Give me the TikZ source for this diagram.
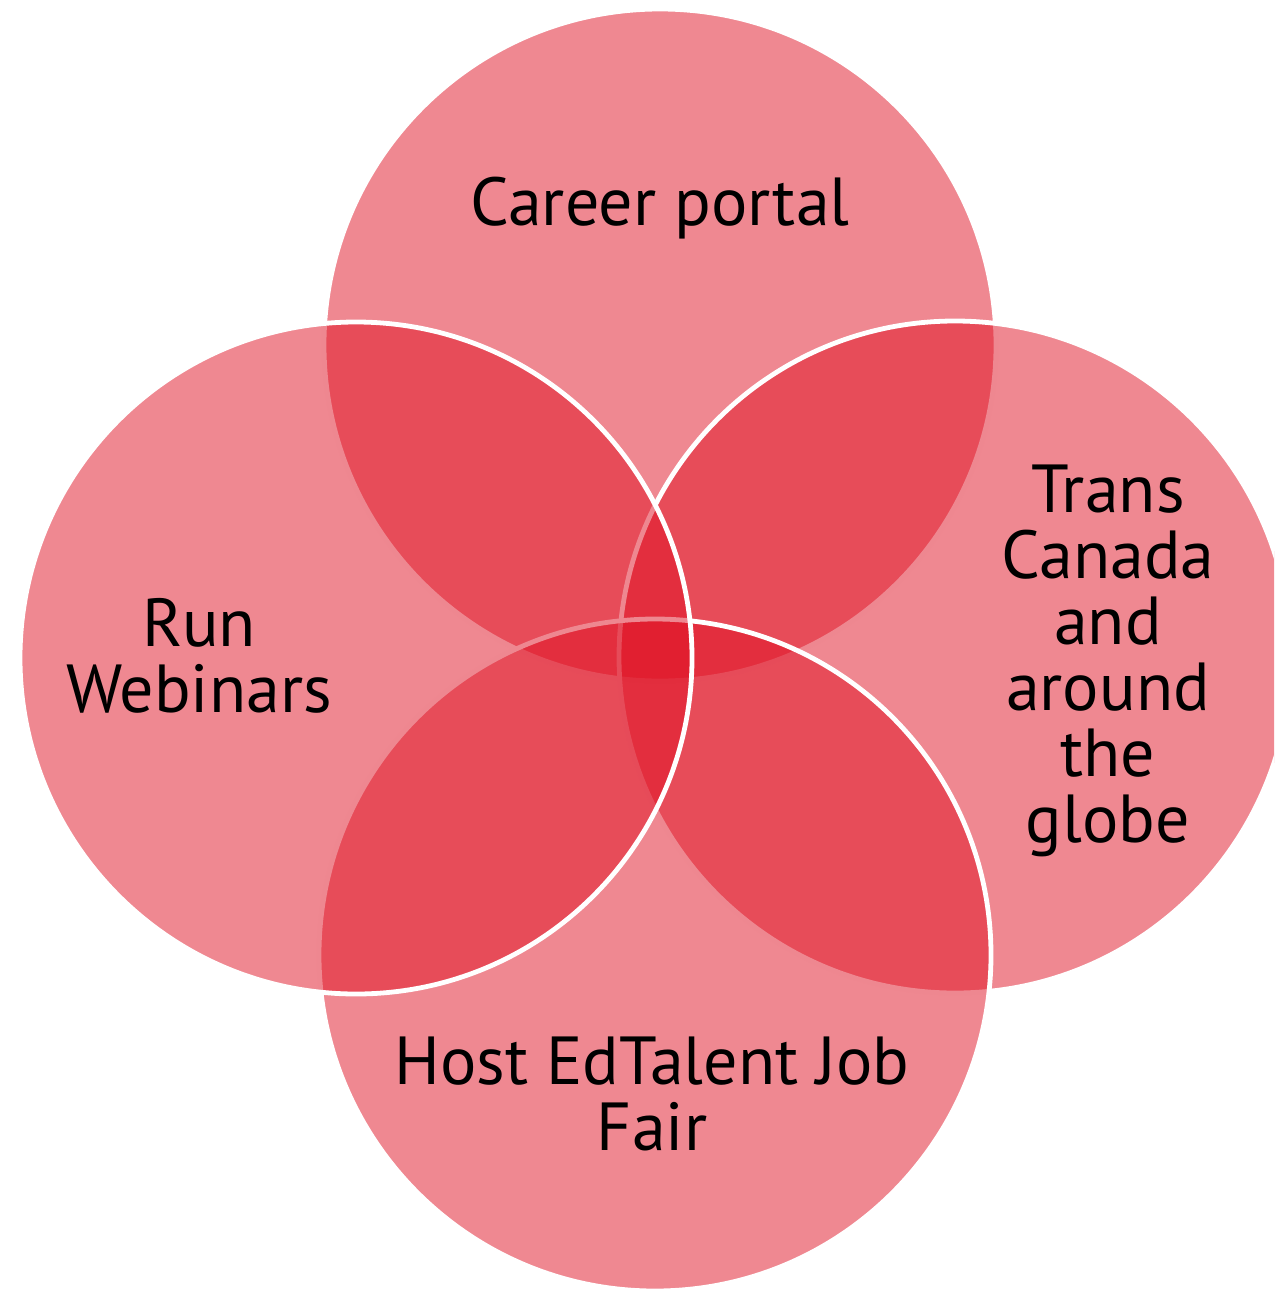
\documentclass[tikz,border=0pt]{standalone}
\usepackage{fontspec}
\setmainfont{PT Sans}
\definecolor{vennred}{RGB}{223,17,35}
\begin{document}
\begin{tikzpicture}[x=0.5pt,y=-0.5pt,
  venn/.style={circle, draw=white, line width=2.4pt, fill=vennred, fill opacity=0.5, minimum size=336pt, inner sep=0pt},
  lbl/.style={text=black, align=center, inner sep=0pt, font=\fontsize{34}{33}\selectfont}]
\useasboundingbox (0,0) rectangle (1274,1290);
\clip (0,0) rectangle (1274,1290);
\node[venn] (ctop) at (660,345) {};
\node[venn] (cright) at (955,657) {};
\node[venn] (cbottom) at (655,955) {};
\node[venn] (cleft) at (356,658) {};
\node[lbl, anchor=base] (ttop) at (660,225) {Career portal};
\node[lbl, anchor=base] (tleft) at (199,712) {Run\\Webinars};
\node[lbl, anchor=base] (tright) at (1108,842) {Trans\\Canada\\and\\around\\the\\globe};
\node[lbl, anchor=base] (tbottom) at (652,1150) {Host EdTalent Job\\Fair};
\end{tikzpicture}
\end{document}
